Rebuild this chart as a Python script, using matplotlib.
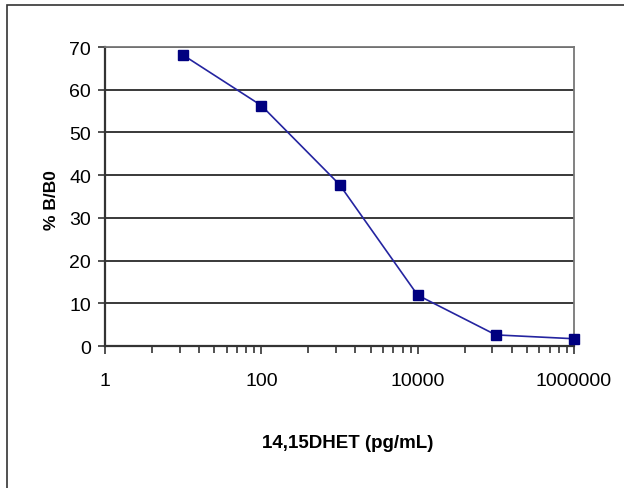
import matplotlib
matplotlib.use("Agg")
import matplotlib.pyplot as plt
from matplotlib.ticker import FixedLocator, NullFormatter
from matplotlib.patches import Rectangle

# Standard curve data
concentration = [10, 100, 1000, 10000, 100000, 1000000]
pct_b_b0 = [68.1, 56.3, 37.8, 11.9, 2.6, 1.7]

x_major = [1, 100, 10000, 1000000]
x_major_labels = ["1", "100", "10000", "1000000"]
y_ticks = [0, 10, 20, 30, 40, 50, 60, 70]

plt.rcParams['font.family'] = ['Liberation Sans', 'DejaVu Sans']

fig = plt.figure(figsize=(6.24, 4.89), dpi=100)
ax = fig.add_axes([105 / 624, 1 - 347 / 489, 469 / 624, 299 / 489])

# outer frame of the chart object (only left and top edges are visible)
fig.add_artist(Rectangle((7 / 624, -0.1), 1.2, 1 - 6 / 489 + 0.1,
                         transform=fig.transFigure, fill=False,
                         edgecolor='#333333', linewidth=1.2))

ax.plot(concentration, pct_b_b0, color='#2424a0', linewidth=1.2,
        marker='s', markersize=7, markerfacecolor='#000080',
        markeredgecolor='#000080', zorder=3, clip_on=False)

ax.set_xscale('log')
ax.set_xlim(1, 1000000)
ax.set_ylim(0, 70)

# log axis with base 100: minor ticks at k^2 within each major step
minor = []
for base in [1, 100, 10000]:
    for k in range(2, 10):
        minor.append(base * k * k)
ax.xaxis.set_major_locator(FixedLocator(x_major))
ax.xaxis.set_minor_locator(FixedLocator(minor))
ax.xaxis.set_minor_formatter(NullFormatter())
ax.set_xticklabels(x_major_labels, fontsize=14)
ax.set_yticks(y_ticks)
ax.set_yticklabels([str(v) for v in y_ticks], fontsize=14)

ax.tick_params(axis='x', which='major', direction='out', length=6, width=1.2,
               color='#333333', pad=13)
ax.tick_params(axis='x', which='minor', direction='out', length=5, width=1.2,
               color='#333333')
ax.tick_params(axis='y', direction='out', length=5, width=1.2,
               color='#333333', pad=5)

ax.grid(True, axis='y', color='#2a2a2a', linewidth=1.3)
ax.set_axisbelow(True)

for side in ['left', 'bottom']:
    ax.spines[side].set_color('#333333')
    ax.spines[side].set_linewidth(1.6)
for side in ['top', 'right']:
    ax.spines[side].set_color('#777777')
    ax.spines[side].set_linewidth(1.3)

fig.text(52 / 624, 1 - 200 / 489, "% B/B0", rotation=90, fontsize=12.5,
         fontweight='bold', ha='center', va='center')
fig.text(348 / 624, 1 - 444 / 489, "14,15DHET (pg/mL)", fontsize=13.5,
         fontweight='bold', ha='center', va='center')

fig.savefig("out.png", dpi=100)
